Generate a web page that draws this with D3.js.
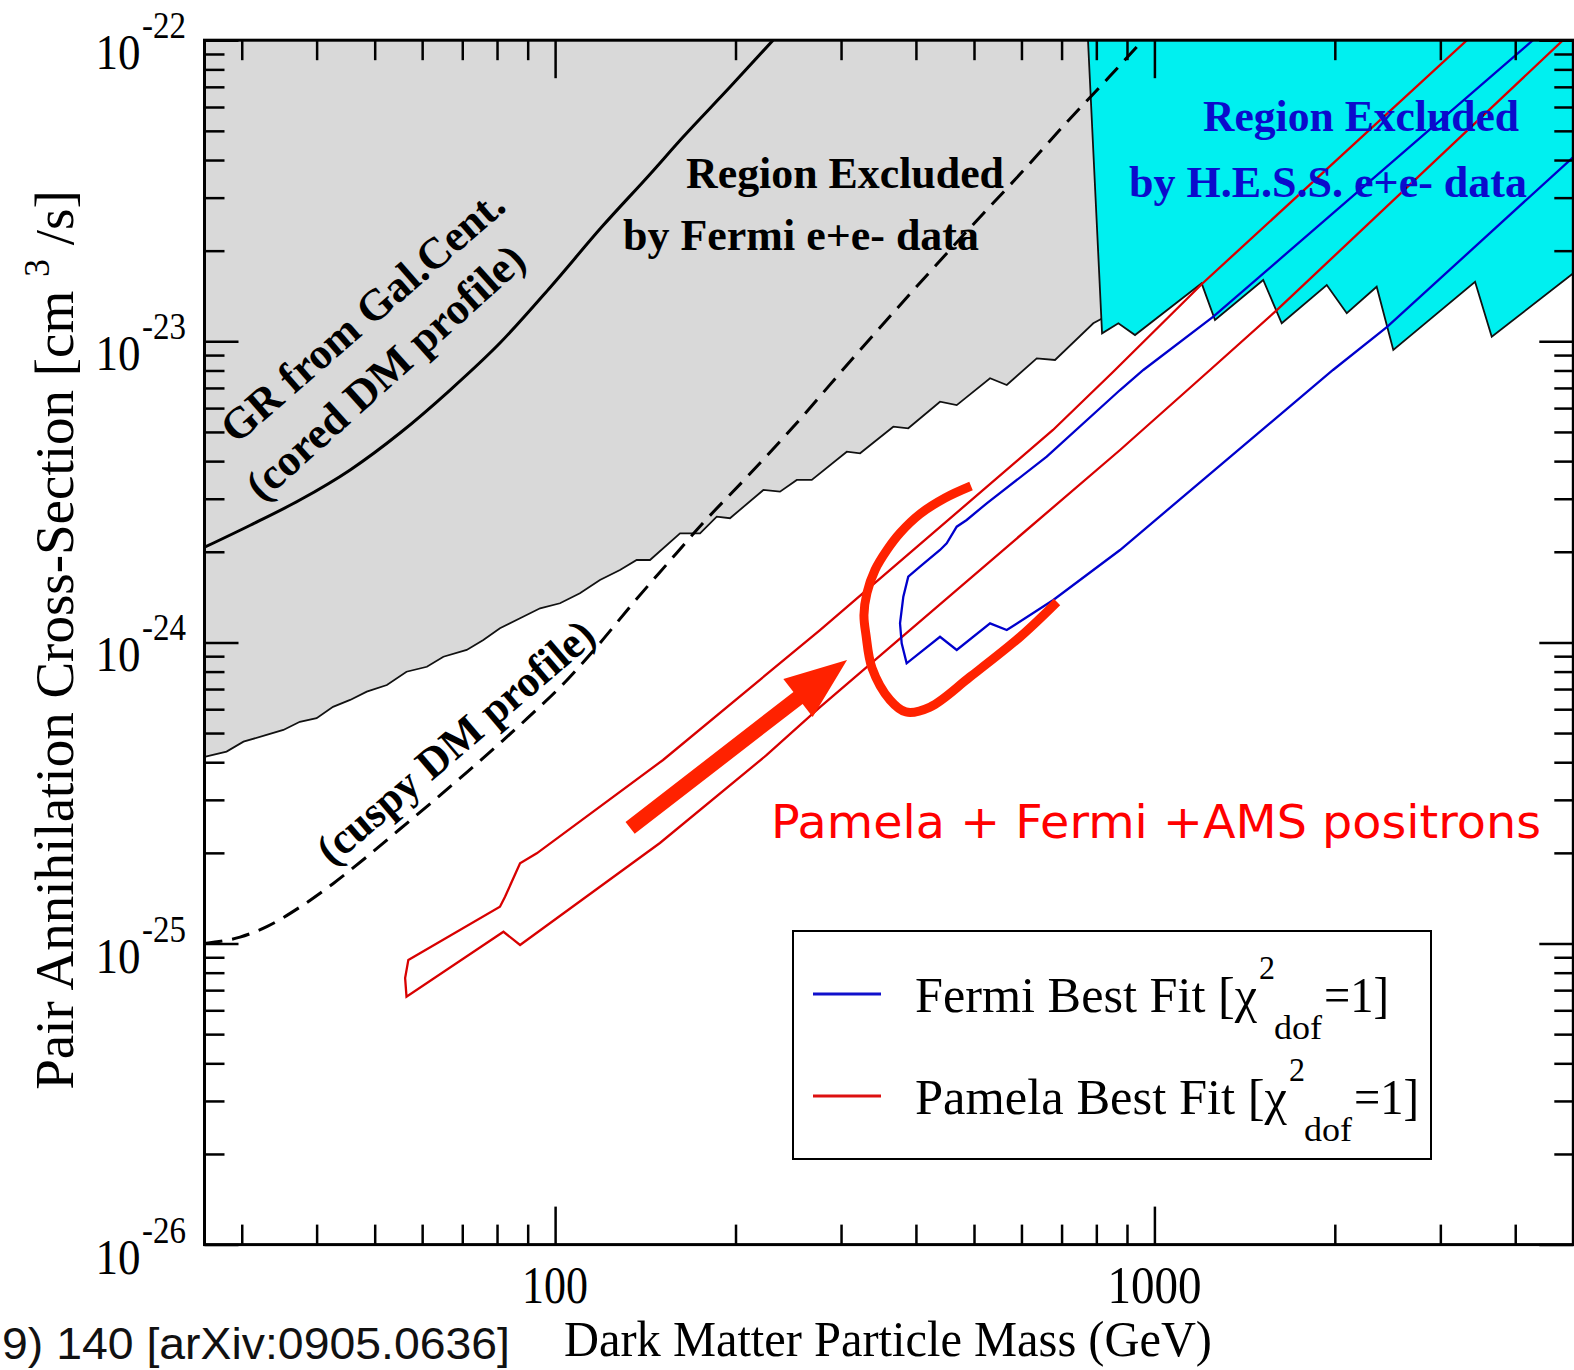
<!DOCTYPE html>
<html><head><meta charset="utf-8">
<script src="https://cdn.jsdelivr.net/npm/d3@7"></script>
<style>html,body{margin:0;padding:0;background:#fff}svg{display:block}</style>
</head><body>
<svg id="chart" width="1574" height="1370"></svg>
<script>
// ---------- axes ----------
const xDomain = [26, 5000];
const yDomain = [1e-26, 1e-22];
const xMajorTicks = [100, 1000];
const xMajorLabels = ["100", "1000"];
const xMinorTicks = [30,40,50,60,70,80,90,200,300,400,500,600,700,800,900,2000,3000,4000];
const yMajorTicks = [1e-26, 1e-25, 1e-24, 1e-23, 1e-22];
const yTickExponents = ["-26", "-25", "-24", "-23", "-22"];

// ---------- GR from Gal. Cent. (cored DM profile) ----------
const grMass  = [26, 31, 37.5, 45.5, 55.1, 66.8, 80.9, 98.1, 119.7, 144, 163.5, 195.8, 231];
const grSigma = [2.07e-24, 2.45e-24, 2.97e-24, 3.74e-24, 4.96e-24, 6.89e-24, 9.87e-24, 1.51e-23, 2.40e-23, 3.59e-23, 4.77e-23, 6.99e-23, 1.0e-22];

// ---------- cuspy DM profile (dashed) ----------
const cuspyMass  = [26, 29.8, 33.1, 37.5, 42.6, 48.5, 55.1, 62.6, 71.3, 80.9, 91.9, 104.7, 118.8, 134.9, 153.7, 176.5, 211.4, 249.5, 314.2, 393.9, 492.4, 605.9, 714.8, 843.2, 957];
const cuspySigma = [1.0e-25, 1.05e-25, 1.14e-25, 1.32e-25, 1.58e-25, 1.94e-25, 2.40e-25, 2.97e-25, 3.71e-25, 4.63e-25, 5.83e-25, 7.50e-25, 9.95e-25, 1.35e-24, 1.82e-24, 2.49e-24, 3.63e-24, 5.19e-24, 8.80e-24, 1.46e-23, 2.38e-23, 3.71e-23, 5.35e-23, 7.60e-23, 1.0e-22];

// ---------- Fermi e+e- exclusion boundary (grey) ----------
const fermiExclMass  = [26, 28.3, 30.2, 33.0, 35.2, 37.5, 40.0, 42.6, 45.5, 48.5, 52.4, 56.5, 61.1, 65.1, 71.2, 75.9, 80.9, 87.4, 94.4, 101.9, 110.0, 118.8, 128.3, 136.8, 144.0, 161.6, 174.5, 186.1, 195.8, 222.6, 237.3, 253.1, 268.1, 306.7, 322.8, 366.7, 388.4, 438.8, 467.9, 531.8, 567.1, 636.3, 682.6, 790.7, 820.8];
const fermiExclSigma = [4.17e-25, 4.34e-25, 4.68e-25, 4.93e-25, 5.12e-25, 5.45e-25, 5.60e-25, 6.11e-25, 6.44e-25, 6.86e-25, 7.22e-25, 7.99e-25, 8.30e-25, 8.96e-25, 9.44e-25, 1.019e-24, 1.114e-24, 1.203e-24, 1.298e-24, 1.349e-24, 1.456e-24, 1.612e-24, 1.740e-24, 1.878e-24, 1.878e-24, 2.303e-24, 2.303e-24, 2.615e-24, 2.584e-24, 3.208e-24, 3.167e-24, 3.463e-24, 3.463e-24, 4.298e-24, 4.246e-24, 5.204e-24, 5.141e-24, 6.30e-24, 6.14e-24, 7.54e-24, 7.16e-24, 8.78e-24, 8.67e-24, 1.148e-23, 1.195e-23];

// ---------- H.E.S.S. e+e- exclusion boundary (cyan) ----------
const hessMass  = [774.8, 817.8, 870.7, 928.2, 1199, 1262, 1519, 1631, 1939, 2094, 2349, 2504, 3428, 3655, 5000];
const hessSigma = [1.0e-22, 1.063e-23, 1.148e-23, 1.049e-23, 1.558e-23, 1.177e-23, 1.598e-23, 1.148e-23, 1.538e-23, 1.239e-23, 1.518e-23, 9.36e-24, 1.577e-23, 1.036e-23, 1.682e-23];

// ---------- Pamela best fit contour (red) ----------
const pamelaUpperMass  = [56.2, 56.9, 80.9, 82.5, 87.4, 93.2, 151.4, 276.7, 677.3, 852.9, 1205, 3323];
const pamelaUpperSigma = [7.68e-26, 8.82e-26, 1.325e-25, 1.43e-25, 1.846e-25, 1.993e-25, 4.069e-25, 1.099e-24, 5.075e-24, 7.91e-24, 1.562e-23, 1.0e-22];
const pamelaLowerMass  = [56.5, 82.0, 87.4, 149.6, 225.5, 276.7, 876.3, 1238, 1602, 4806];
const pamelaLowerSigma = [6.66e-26, 1.094e-25, 9.89e-26, 2.157e-25, 4.228e-25, 6.10e-25, 4.355e-24, 8.03e-24, 1.271e-23, 1.0e-22];

// ---------- Fermi best fit contour (blue) ----------
const fermiUpperMass  = [378.7, 376.3, 381.1, 388.4, 406.3, 438.8, 450.2, 467.9, 486.2, 525.1, 661.2, 876.3, 958.3, 1254, 4282];
const fermiUpperSigma = [9.93e-25, 1.157e-24, 1.418e-24, 1.653e-24, 1.784e-24, 2.027e-24, 2.134e-24, 2.423e-24, 2.55e-24, 2.897e-24, 4.137e-24, 6.89e-24, 8.03e-24, 1.207e-23, 1.0e-22];
const fermiLowerMass  = [386.0, 438.8, 467.9, 531.8, 567.1, 678.1, 876.3, 1986, 2445, 5000];
const fermiLowerSigma = [8.52e-25, 1.044e-24, 9.44e-25, 1.157e-24, 1.099e-24, 1.383e-24, 2.027e-24, 8.03e-24, 1.116e-23, 4.094e-23];

// ---------- hand-drawn annotation ----------
const loopMass  = [494.3, 447.3, 406.3, 376.3, 357.9, 341.8, 331.4, 327.6, 330.2, 337.9, 362.1, 384.9, 422.3, 492.4, 596.6, 687.9];
const loopSigma = [3.307e-24, 3.017e-24, 2.669e-24, 2.308e-24, 2.027e-24, 1.740e-24, 1.459e-24, 1.233e-24, 1.058e-24, 8.22e-25, 6.436e-25, 5.874e-25, 6.10e-25, 7.68e-25, 1.042e-24, 1.362e-24];
const arrowMass  = [133.4, 307.0];
const arrowSigma = [2.42e-25, 8.74e-25];

const legendLabels = ["Fermi Best Fit [\u03C7", "Pamela Best Fit [\u03C7"];
const annotationText = "Pamela + Fermi +AMS positrons";

// ================= drawing =================
const M = {left: 204.5, right: 1573.3, top: 40.2, bottom: 1244.6};
const x = d3.scaleLog().domain(xDomain).range([M.left, M.right]);
const y = d3.scaleLog().domain(yDomain).range([M.bottom, M.top]);
const SERIF = "'Liberation Serif','Times New Roman',serif";
const svg = d3.select("#chart");
const zip = (a, b) => a.map((v, i) => [v, b[i]]);
const line = d3.line().x(d => x(d[0])).y(d => y(d[1]));

svg.append("defs").append("clipPath").attr("id", "clip")
  .append("rect").attr("x", M.left).attr("y", M.top)
  .attr("width", M.right - M.left).attr("height", M.bottom - M.top);
const plot = svg.append("g").attr("clip-path", "url(#clip)");

// grey region
const fermiPts = zip(fermiExclMass, fermiExclSigma);
const greyPoly = fermiPts.concat([[fermiExclMass[fermiExclMass.length - 1], yDomain[1]], [xDomain[0], yDomain[1]]]);
plot.append("path").attr("d", line(greyPoly) + "Z").attr("fill", "#d9d9d9").attr("stroke", "none");
plot.append("path").attr("d", line(fermiPts)).attr("fill", "none").attr("stroke", "#111").attr("stroke-width", 1.8);

// cyan region
const hessPts = zip(hessMass, hessSigma);
const hessPoly = hessPts.concat([[xDomain[1], yDomain[1]]]);
plot.append("path").attr("d", line(hessPoly) + "Z").attr("fill", "#00f0f0").attr("stroke", "none");
plot.append("path").attr("d", line(hessPts)).attr("fill", "none").attr("stroke", "#111").attr("stroke-width", 1.8);

// region texts
const txt = (g, s, px, py, opts) => {
  const t = g.append("text").attr("x", px).attr("y", py).text(s)
    .attr("font-family", opts.family || SERIF).attr("font-size", opts.size)
    .attr("font-weight", opts.weight || "normal").attr("fill", opts.fill || "#000")
    .attr("text-anchor", opts.anchor || "start");
  if (opts.len) t.attr("textLength", opts.len).attr("lengthAdjust", "spacingAndGlyphs");
  if (opts.rot !== undefined) t.attr("transform", `rotate(${opts.rot},${px},${py})`);
  return t;
};
txt(svg, "Region Excluded", 845, 188, {size: 44, weight: "bold", anchor: "middle", len: 318});
txt(svg, "by Fermi e+e- data", 801, 250, {size: 44, weight: "bold", anchor: "middle", len: 356});
txt(svg, "Region Excluded", 1361, 131, {size: 44, weight: "bold", anchor: "middle", len: 316, fill: "#0b0bcc"});
txt(svg, "by H.E.S.S. e+e- data", 1328, 197, {size: 44, weight: "bold", anchor: "middle", len: 398, fill: "#0b0bcc"});
txt(svg, "GR from Gal.Cent.", 372, 327, {size: 44, weight: "bold", anchor: "middle", len: 360, rot: -41});
txt(svg, "(cored DM profile)", 395, 383, {size: 44, weight: "bold", anchor: "middle", len: 358, rot: -42});
txt(svg, "(cuspy DM profile)", 465, 753, {size: 44, weight: "bold", anchor: "middle", len: 350, rot: -40.5});

// GR & cuspy curves
plot.append("path").attr("d", line.curve(d3.curveMonotoneX)(zip(grMass, grSigma)))
  .attr("fill", "none").attr("stroke", "#000").attr("stroke-width", 3);
plot.append("path").attr("d", line.curve(d3.curveMonotoneX)(zip(cuspyMass, cuspySigma)))
  .attr("fill", "none").attr("stroke", "#000").attr("stroke-width", 3).attr("stroke-dasharray", "18,10");
line.curve(d3.curveLinear);

// contours
const pamelaPts = zip(pamelaUpperMass, pamelaUpperSigma).reverse().concat(zip(pamelaLowerMass, pamelaLowerSigma));
plot.append("path").attr("d", line(pamelaPts)).attr("fill", "none").attr("stroke", "#d80000").attr("stroke-width", 2.3);
const fermiFitPts = zip(fermiUpperMass, fermiUpperSigma).reverse().concat(zip(fermiLowerMass, fermiLowerSigma));
plot.append("path").attr("d", line(fermiFitPts)).attr("fill", "none").attr("stroke", "#0000cc").attr("stroke-width", 2.3);

// legend
const lg = svg.append("g");
lg.append("rect").attr("x", 793).attr("y", 931).attr("width", 638).attr("height", 228)
  .attr("fill", "#fff").attr("stroke", "#000").attr("stroke-width", 2);
const legendColors = ["#1010cc", "#dd1010"];
const rowY = [1012, 1114];
const rowLen = [342, 372];
legendLabels.forEach((lab, i) => {
  lg.append("line").attr("x1", 813).attr("x2", 881).attr("y1", rowY[i] - 18).attr("y2", rowY[i] - 18)
    .attr("stroke", legendColors[i]).attr("stroke-width", 3);
  txt(lg, lab, 915, rowY[i], {size: 50, len: rowLen[i]});
  const ex = 915 + rowLen[i];
  txt(lg, "2", ex + 2, rowY[i] - 33, {size: 34, len: 16});
  txt(lg, "dof", ex + 17, rowY[i] + 27, {size: 34, len: 48});
  txt(lg, "=1]", ex + 67, rowY[i], {size: 50, len: 65});
});

// annotation: loop, arrow, text
plot.append("path").attr("d", line.curve(d3.curveCatmullRom)(zip(loopMass, loopSigma)))
  .attr("fill", "none").attr("stroke", "#ff2200").attr("stroke-width", 9).attr("stroke-linecap", "butt");
line.curve(d3.curveLinear);
(function () {
  const p0 = [x(arrowMass[0]), y(arrowSigma[0])], p1 = [x(arrowMass[1]), y(arrowSigma[1])];
  const dx = p1[0] - p0[0], dy = p1[1] - p0[1], L = Math.hypot(dx, dy);
  const ux = dx / L, uy = dy / L, nx = -uy, ny = ux;
  const headLen = 62, headW = 24, shaftW = 7.5;
  const bx = p1[0] - ux * headLen, by = p1[1] - uy * headLen;
  const pts = [
    [p0[0] + nx * shaftW, p0[1] + ny * shaftW], [bx + nx * shaftW, by + ny * shaftW],
    [bx + nx * headW, by + ny * headW], p1,
    [bx - nx * headW, by - ny * headW], [bx - nx * shaftW, by - ny * shaftW],
    [p0[0] - nx * shaftW, p0[1] - ny * shaftW]];
  svg.append("path").attr("d", "M" + pts.map(p => p.join(",")).join("L") + "Z").attr("fill", "#ff2200");
})();
txt(svg, annotationText, 771, 838, {size: 47, family: "'Comic Sans MS','DejaVu Sans',sans-serif", fill: "#ff0000", len: 770});

// axes ticks (inward, mirrored)
const axG = svg.append("g");
function ticks(axis, tr, len) {
  const g = axG.append("g").attr("transform", tr).call(axis.tickSize(-len).tickFormat(""));
  g.select(".domain").remove();
  g.selectAll(".tick line").attr("stroke", "#000").attr("stroke-width", 2.5);
}
ticks(d3.axisBottom(x).tickValues(xMajorTicks), `translate(0,${M.bottom})`, 38);
ticks(d3.axisBottom(x).tickValues(xMinorTicks), `translate(0,${M.bottom})`, 20);
ticks(d3.axisTop(x).tickValues(xMajorTicks), `translate(0,${M.top})`, 38);
ticks(d3.axisTop(x).tickValues(xMinorTicks), `translate(0,${M.top})`, 20);
const yMinor = y.ticks().filter(v => !yMajorTicks.some(m => Math.abs(Math.log10(v) - Math.log10(m)) < 1e-6));
ticks(d3.axisLeft(y).tickValues(yMajorTicks), `translate(${M.left},0)`, 34);
ticks(d3.axisLeft(y).tickValues(yMinor), `translate(${M.left},0)`, 20);
ticks(d3.axisRight(y).tickValues(yMajorTicks), `translate(${M.right},0)`, 34);
ticks(d3.axisRight(y).tickValues(yMinor), `translate(${M.right},0)`, 19);
axG.append("rect").attr("x", M.left).attr("y", M.top).attr("width", M.right - M.left).attr("height", M.bottom - M.top)
  .attr("fill", "none").attr("stroke", "#000").attr("stroke-width", 3);

// tick labels
yMajorTicks.forEach((v, i) => {
  txt(svg, "10", 95.5, y(v) + 29, {size: 50, len: 45});
  txt(svg, yTickExponents[i], 142, y(v) - 2, {size: 38, len: 44});
});
xMajorTicks.forEach((v, i) => {
  txt(svg, xMajorLabels[i], x(v), 1303, {size: 52, anchor: "middle", len: i === 0 ? 66 : 94});
});

// axis titles
txt(svg, "Dark Matter Particle Mass (GeV)", 888, 1356, {size: 50, anchor: "middle", len: 648});
const yt = svg.append("text").attr("transform", "translate(72.5,640) rotate(-90)")
  .attr("text-anchor", "middle").attr("font-family", SERIF).attr("font-size", 55).attr("fill", "#000");
yt.append("tspan").text("Pair Annihilation Cross-Section [cm ");
yt.append("tspan").attr("dy", -24).attr("font-size", 36).text("3");
yt.append("tspan").attr("dy", 24).text(" /s]");

// citation fragment
txt(svg, "9) 140 [arXiv:0905.0636]", 2, 1359, {size: 44, family: "'Liberation Sans',Arial,sans-serif", fill: "#111", len: 508});
</script>
</body></html>
